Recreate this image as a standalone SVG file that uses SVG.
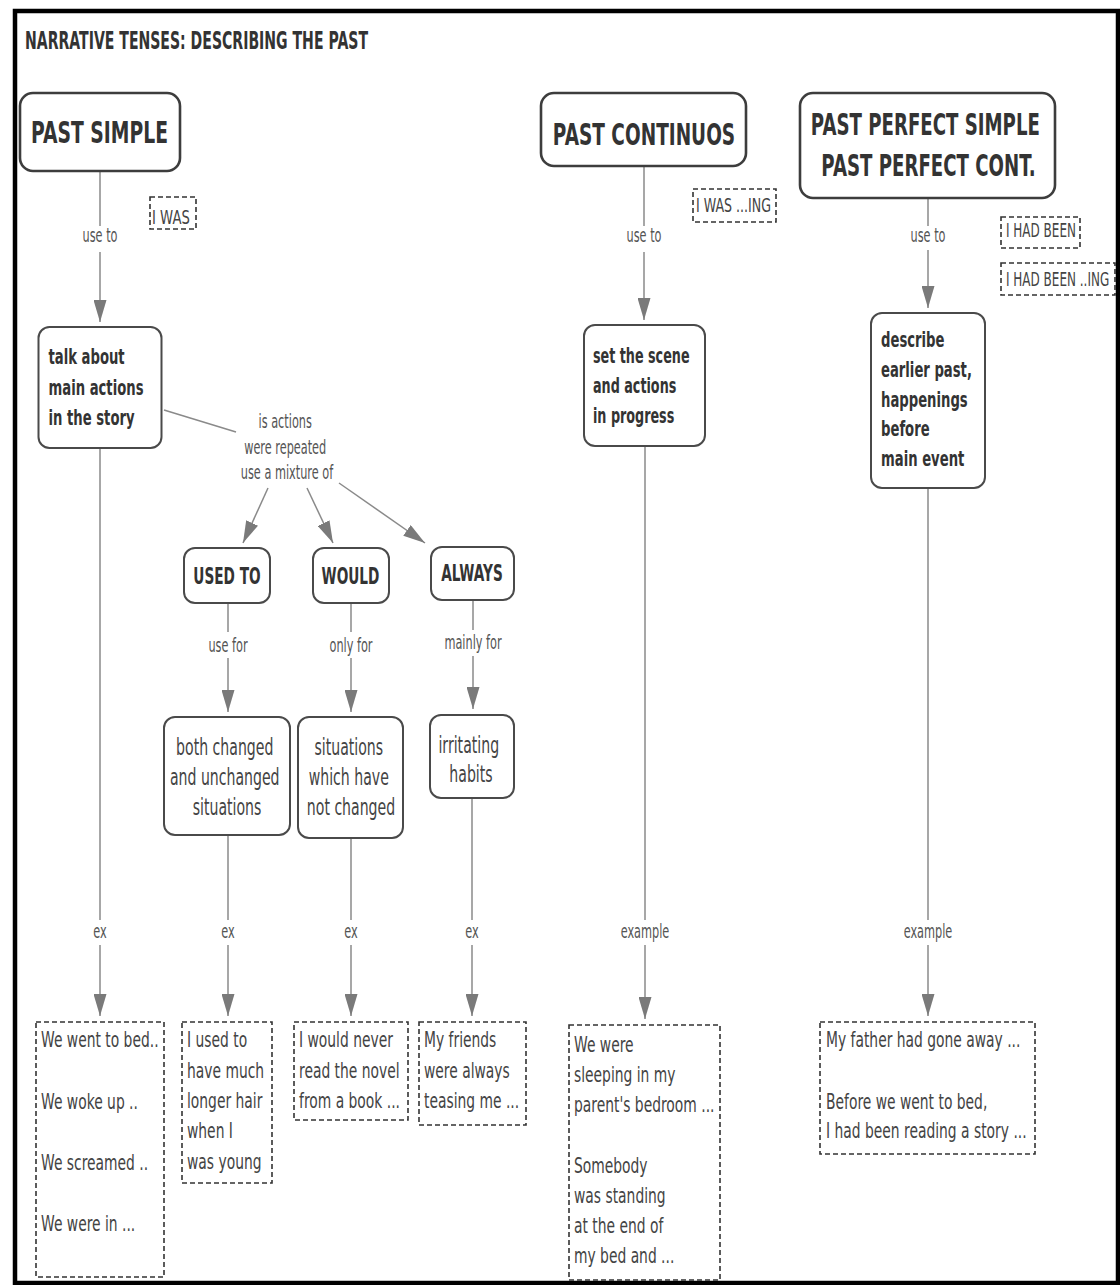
<svg xmlns="http://www.w3.org/2000/svg" width="1120" height="1285" viewBox="0 0 1120 1285">
  <defs>
    <marker id="arr" markerUnits="userSpaceOnUse" markerWidth="22" markerHeight="13" refX="22" refY="6.5" orient="auto">
      <path d="M0,0 L22,6.5 L0,13 z" fill="#7a7a7a"/>
    </marker>
    <style>
      text { font-family: "DejaVu Sans", Verdana, sans-serif; }
      .title { font-weight: bold; font-size: 25.5px; fill: #333; }
      .big { font-weight: bold; font-size: 30px; fill: #333; text-anchor: middle; }
      .mid { font-weight: bold; font-size: 22px; fill: #333; }
      .cap { font-weight: bold; font-size: 23px; fill: #333; text-anchor: middle; }
      .reg { font-size: 23.5px; fill: #444; text-anchor: middle; }
      .lbl { font-size: 19.5px; fill: #555; text-anchor: middle; }
      .ex { font-size: 21.5px; fill: #444; }
      .tag { font-size: 20px; fill: #444; }
      .node { fill: #fff; stroke: #4a4a4a; stroke-width: 2; }
      .head { fill: #fff; stroke: #3d3d3d; stroke-width: 2.6; }
      .dash { fill: #fff; stroke: #333; stroke-width: 1.6; stroke-dasharray: 5 3; }
      .link { fill: none; stroke: #8a8a8a; stroke-width: 1.5; }
      .arrow { marker-end: url(#arr); }
    </style>
  </defs>

  <rect width="1120" height="1285" fill="#fff"/>
  <rect x="15" y="11" width="1103" height="1272" fill="none" stroke="#000" stroke-width="4.5"/>

  <text class="title" x="25" y="49" textLength="343" lengthAdjust="spacingAndGlyphs">NARRATIVE TENSES: DESCRIBING THE PAST</text>

  <!-- connectors -->
  <g id="connectors">
    <path class="link" d="M100,172 V226"/>
    <path class="link arrow" d="M100,252 V322"/>
    <path class="link" d="M164,410 L236,432"/>
    <path class="link arrow" d="M268,488 L243,543"/>
    <path class="link arrow" d="M307,488 L333,543"/>
    <path class="link arrow" d="M339,483 L425,543"/>
    <path class="link" d="M100,449 V920"/>
    <path class="link arrow" d="M100,945 V1016"/>

    <path class="link" d="M228,603 V632"/>
    <path class="link arrow" d="M228,658 V712"/>
    <path class="link" d="M351,603 V632"/>
    <path class="link arrow" d="M351,658 V712"/>
    <path class="link" d="M473,600 V630"/>
    <path class="link arrow" d="M473,656 V709"/>

    <path class="link" d="M228,835 V920"/>
    <path class="link arrow" d="M228,945 V1016"/>
    <path class="link" d="M351,838 V920"/>
    <path class="link arrow" d="M351,945 V1016"/>
    <path class="link" d="M472,798 V920"/>
    <path class="link arrow" d="M472,945 V1016"/>

    <path class="link" d="M644,166 V226"/>
    <path class="link arrow" d="M644,252 V320"/>
    <path class="link" d="M645,447 V920"/>
    <path class="link arrow" d="M645,945 V1019"/>

    <path class="link" d="M928,198 V226"/>
    <path class="link arrow" d="M928,250 V308"/>
    <path class="link" d="M928,489 V920"/>
    <path class="link arrow" d="M928,945 V1016"/>
  </g>

  <!-- link labels -->
  <g id="labels">
    <text class="lbl" transform="translate(100 0) scale(0.58 1)" y="242">use to</text>
    <text class="lbl" transform="translate(644 0) scale(0.58 1)" y="242">use to</text>
    <text class="lbl" transform="translate(928 0) scale(0.58 1)" y="242">use to</text>
    <text class="lbl" transform="translate(287 0) scale(0.58 1)">
      <tspan x="0" y="428">is actions</tspan>
      <tspan x="0" y="454">were repeated</tspan>
      <tspan x="0" y="479">use a mixture of</tspan>
    </text>
    <text class="lbl" transform="translate(228 0) scale(0.58 1)" y="652">use for</text>
    <text class="lbl" transform="translate(351 0) scale(0.58 1)" y="652">only for</text>
    <text class="lbl" transform="translate(473 0) scale(0.58 1)" y="649">mainly for</text>
    <text class="lbl" transform="translate(100 0) scale(0.58 1)" y="938">ex</text>
    <text class="lbl" transform="translate(228 0) scale(0.58 1)" y="938">ex</text>
    <text class="lbl" transform="translate(351 0) scale(0.58 1)" y="938">ex</text>
    <text class="lbl" transform="translate(472 0) scale(0.58 1)" y="938">ex</text>
    <text class="lbl" transform="translate(645 0) scale(0.58 1)" y="938">example</text>
    <text class="lbl" transform="translate(928 0) scale(0.58 1)" y="938">example</text>
  </g>

  <!-- tense headings -->
  <g id="past-simple">
    <rect class="head" x="20" y="93" width="160" height="78" rx="13"/>
    <text class="big" transform="translate(99.5 0) scale(0.625 1)" x="0" y="142.7">PAST SIMPLE</text>
  </g>
  <g id="past-continuous">
    <rect class="head" x="541" y="93" width="205" height="73" rx="13"/>
    <text class="big" transform="translate(644 0) scale(0.617 1)" x="0" y="145">PAST CONTINUOS</text>
  </g>
  <g id="past-perfect">
    <rect class="head" x="800" y="93" width="255" height="105" rx="13"/>
    <text class="big" transform="translate(928.5 0) scale(0.605 1)">
      <tspan x="0" y="135.5">PAST PERFECT SIMPLE</tspan>
      <tspan x="0" y="176.5">PAST PERFECT CONT.</tspan>
    </text>
  </g>

  <!-- form tags -->
  <g id="tag-i-was">
    <rect class="dash" x="150" y="197" width="46" height="32"/>
    <text class="tag" transform="translate(152 0) scale(0.66 1)" x="0" y="224">I WAS</text>
  </g>
  <g id="tag-i-was-ing">
    <rect class="dash" x="693" y="189" width="83" height="33"/>
    <text class="tag" transform="translate(696 0) scale(0.63 1)" x="0" y="212">I WAS ...ING</text>
  </g>
  <g id="tag-i-had-been">
    <rect class="dash" x="1001" y="217" width="79" height="31"/>
    <text class="tag" transform="translate(1006 0) scale(0.6 1)" x="0" y="237">I HAD BEEN</text>
  </g>
  <g id="tag-i-had-been-ing">
    <rect class="dash" x="1001" y="263" width="114" height="32"/>
    <text class="tag" transform="translate(1006 0) scale(0.6 1)" x="0" y="286">I HAD BEEN ..ING</text>
  </g>

  <!-- uses -->
  <g id="main-actions">
    <rect class="node" x="38.5" y="327" width="123" height="121" rx="11"/>
    <text class="mid" transform="translate(48.5 0) scale(0.6 1)">
      <tspan x="0" y="364">talk about</tspan>
      <tspan x="0" y="395">main actions</tspan>
      <tspan x="0" y="425">in the story</tspan>
    </text>
  </g>
  <g id="set-scene">
    <rect class="node" x="584" y="325" width="121" height="121" rx="11"/>
    <text class="mid" transform="translate(593 0) scale(0.58 1)">
      <tspan x="0" y="363">set the scene</tspan>
      <tspan x="0" y="393">and actions</tspan>
      <tspan x="0" y="423">in progress</tspan>
    </text>
  </g>
  <g id="earlier-past">
    <rect class="node" x="871" y="313" width="114" height="175" rx="11"/>
    <text class="mid" transform="translate(881 0) scale(0.6 1)">
      <tspan x="0" y="347">describe</tspan>
      <tspan x="0" y="377">earlier past,</tspan>
      <tspan x="0" y="407">happenings</tspan>
      <tspan x="0" y="436">before</tspan>
      <tspan x="0" y="466">main event</tspan>
    </text>
  </g>

  <!-- repeated-action forms -->
  <g id="used-to">
    <rect class="node" x="184" y="548" width="86" height="55" rx="11"/>
    <text class="cap" transform="translate(227 0) scale(0.595 1)" x="0" y="584">USED TO</text>
  </g>
  <g id="would">
    <rect class="node" x="313" y="548" width="76" height="55" rx="11"/>
    <text class="cap" transform="translate(350.5 0) scale(0.595 1)" x="0" y="584">WOULD</text>
  </g>
  <g id="always">
    <rect class="node" x="431" y="547" width="83" height="53" rx="11"/>
    <text class="cap" transform="translate(472 0) scale(0.595 1)" x="0" y="581">ALWAYS</text>
  </g>

  <g id="changed-unchanged">
    <rect class="node" x="164" y="717" width="126" height="118" rx="11"/>
    <text class="reg" transform="translate(227 0) scale(0.6 1)">
      <tspan x="0" y="755">both changed</tspan>
      <tspan x="0" y="785">and unchanged</tspan>
      <tspan x="0" y="815">situations</tspan>
    </text>
  </g>
  <g id="not-changed">
    <rect class="node" x="298" y="717" width="105" height="121" rx="11"/>
    <text class="reg" transform="translate(351 0) scale(0.6 1)">
      <tspan x="0" y="755">situations</tspan>
      <tspan x="0" y="785">which have</tspan>
      <tspan x="0" y="815">not changed</tspan>
    </text>
  </g>
  <g id="irritating-habits">
    <rect class="node" x="430" y="715" width="84" height="83" rx="11"/>
    <text class="reg" transform="translate(471 0) scale(0.6 1)">
      <tspan x="0" y="753">irritating</tspan>
      <tspan x="0" y="782">habits</tspan>
    </text>
  </g>

  <!-- examples -->
  <g id="ex-past-simple">
    <rect class="dash" x="36" y="1022" width="128" height="255"/>
    <text class="ex" transform="translate(41 0) scale(0.645 1)">
      <tspan x="0" y="1047">We went to bed..</tspan>
      <tspan x="0" y="1109">We woke up ..</tspan>
      <tspan x="0" y="1170">We screamed ..</tspan>
      <tspan x="0" y="1231">We were in ...</tspan>
    </text>
  </g>
  <g id="ex-used-to">
    <rect class="dash" x="182" y="1022" width="90" height="161"/>
    <text class="ex" transform="translate(187 0) scale(0.645 1)">
      <tspan x="0" y="1047">I used to</tspan>
      <tspan x="0" y="1078">have much</tspan>
      <tspan x="0" y="1108">longer hair</tspan>
      <tspan x="0" y="1138">when I</tspan>
      <tspan x="0" y="1169">was young</tspan>
    </text>
  </g>
  <g id="ex-would">
    <rect class="dash" x="294" y="1022" width="114" height="98"/>
    <text class="ex" transform="translate(299 0) scale(0.645 1)">
      <tspan x="0" y="1047">I would never</tspan>
      <tspan x="0" y="1078">read the novel</tspan>
      <tspan x="0" y="1108">from a book ...</tspan>
    </text>
  </g>
  <g id="ex-always">
    <rect class="dash" x="419" y="1022" width="107" height="103"/>
    <text class="ex" transform="translate(424 0) scale(0.645 1)">
      <tspan x="0" y="1047">My friends</tspan>
      <tspan x="0" y="1078">were always</tspan>
      <tspan x="0" y="1108">teasing me ...</tspan>
    </text>
  </g>
  <g id="ex-past-continuous">
    <rect class="dash" x="569" y="1025" width="151" height="255"/>
    <text class="ex" transform="translate(574 0) scale(0.645 1)">
      <tspan x="0" y="1052">We were</tspan>
      <tspan x="0" y="1082">sleeping in my</tspan>
      <tspan x="0" y="1112">parent's bedroom ...</tspan>
      <tspan x="0" y="1173">Somebody</tspan>
      <tspan x="0" y="1203">was standing</tspan>
      <tspan x="0" y="1233">at the end of</tspan>
      <tspan x="0" y="1263">my bed and ...</tspan>
    </text>
  </g>
  <g id="ex-past-perfect">
    <rect class="dash" x="820" y="1022" width="215" height="132"/>
    <text class="ex" transform="translate(826 0) scale(0.645 1)">
      <tspan x="0" y="1047">My father had gone away ...</tspan>
      <tspan x="0" y="1109">Before we went to bed,</tspan>
      <tspan x="0" y="1138">I had been reading a story ...</tspan>
    </text>
  </g>
</svg>
